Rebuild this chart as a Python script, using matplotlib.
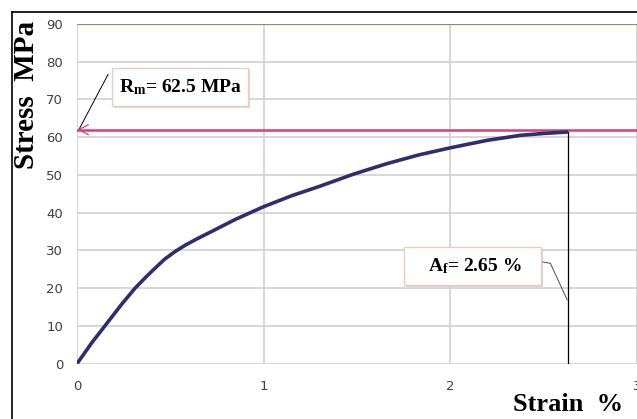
import matplotlib
matplotlib.use("Agg")
import matplotlib.pyplot as plt
from matplotlib.lines import Line2D
from matplotlib.patches import Rectangle

strain = [0, 0.08, 0.168, 0.24, 0.311, 0.37, 0.418, 0.47, 0.525, 0.58, 0.64, 0.704, 0.847, 1.0,
          1.15, 1.3, 1.48, 1.66, 1.83, 2.0, 2.2, 2.375, 2.5, 2.63]
stress = [0, 5.6, 11.2, 15.8, 20.0, 23.0, 25.3, 27.7, 29.7, 31.4, 33.0, 34.6, 38.2, 41.6,
          44.5, 47.0, 50.2, 53.0, 55.3, 57.2, 59.2, 60.5, 61.0, 61.4]

rm_level = 62
top_level = 90
af_strain = 2.63
xticks = [0, 1, 2, 3]
yticks = [0, 10, 20, 30, 40, 50, 60, 70, 80, 90]

plt.rcParams['mathtext.fontset'] = 'custom'
plt.rcParams['mathtext.rm'] = 'Liberation Serif:bold'
plt.rcParams['mathtext.bf'] = 'Liberation Serif:bold'
plt.rcParams['mathtext.it'] = 'Liberation Serif:bold'

fig = plt.figure(figsize=(6.37, 4.19), dpi=100)
W, H = 637, 419
ax = fig.add_axes([77 / W, 1 - 363.7 / H, (637 - 77) / W, (363.7 - 24) / H])

ax.set_xlim(0, 3)
ax.set_ylim(0, 90)
ax.set_xticks(xticks)
ax.set_yticks(yticks)
ax.grid(True, which='major', color='#d4d4d4', lw=1.3)
for s in ax.spines.values():
    s.set_visible(False)
ax.tick_params(which='both', length=0, labelsize=9.5, labelcolor='#404040', pad=10)
ax.tick_params(axis='x', pad=12)

ax.axhline(top_level, color='#8b8f5a', lw=1.6, zorder=3)
ax.axhline(0, color='#d4d4d4', lw=1.3, zorder=2)
ax.axvline(0, color='#d4d4d4', lw=1.3, zorder=2)

ax.axhline(rm_level, color='#d94070', lw=1.8, zorder=4)
ax.plot(strain, stress, color='#2e2e6e', lw=2.6, zorder=5, solid_capstyle='butt',
        solid_joinstyle='round')
ax.plot([af_strain, af_strain], [0, stress[-1]], color='black', lw=0.9, zorder=6)

serif = 'Liberation Serif'
fig.text(27 / W, 1 - 95 / H, 'Stress  MPa', fontsize=21, fontweight='bold', family=serif,
         rotation=90, ha='center', va='center')
fig.text(568 / W, 1 - 404 / H, 'Strain  %', fontsize=19, fontweight='bold', family=serif,
         ha='center', va='center')


def box(x0, x1, y0, y1):
    ax.add_patch(Rectangle((x0 + 0.012, y0 - 0.6), x1 - x0, y1 - y0, fc='#c8c8c8', ec='none',
                           alpha=0.7, zorder=7))
    ax.add_patch(Rectangle((x0, y0), x1 - x0, y1 - y0, fc='white', ec='#e6cfc0', lw=1.0, zorder=8))


box(0.186, 0.917, 68.3, 78.3)
ax.text(0.552, 73.3, r'$\mathrm{R_m}$= 62.5 MPa', fontsize=14, fontweight='bold', family=serif,
        ha='center', va='center', zorder=9)
ax.plot([0.01, 0.166], [rm_level, 76.6], color='black', lw=0.7, zorder=7)
ax.plot([0.01, 0.06], [rm_level, rm_level - 1.3], color='#d94070', lw=0.9, zorder=7)
ax.plot([0.01, 0.06], [rm_level, rm_level + 1.3], color='#d94070', lw=0.9, zorder=7)

box(1.753, 2.486, 20.85, 30.9)
ax.text(2.131, 25.9, r'$\mathrm{A_f}$= 2.65 %', fontsize=14, fontweight='bold', family=serif,
        ha='center', va='center', zorder=9)
ax.plot([2.49, 2.536, 2.626], [27.0, 26.6, 16.9], color='#606060', lw=0.8, zorder=7)

fig.add_artist(Line2D([12 / W, 12 / W], [0, 1 - 12 / H], color='black', lw=1.2))
fig.add_artist(Line2D([12 / W, 1], [1 - 12 / H, 1 - 12 / H], color='black', lw=1.2))

fig.savefig('out.png', dpi=100)
